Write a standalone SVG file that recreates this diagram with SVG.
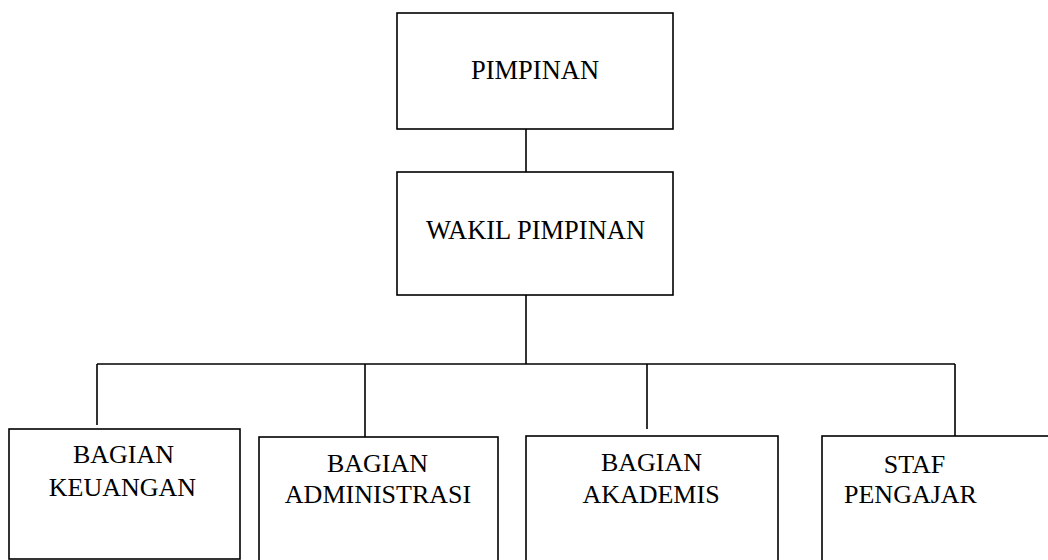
<svg xmlns="http://www.w3.org/2000/svg" width="1048" height="560" viewBox="0 0 1048 560">
<style>
.box{fill:#fff;stroke:#000;stroke-width:1.6}
.ln{fill:none;stroke:#000;stroke-width:1.6}
.t1{font-size:26.5px}
.t2{font-size:26px}
</style>
<rect width="1048" height="560" fill="#fff"/>
<g id="connectors">
<line class="ln" x1="526" y1="129" x2="526" y2="172"/>
<line class="ln" x1="526" y1="295" x2="526" y2="364"/>
<line class="ln" x1="97" y1="364" x2="955" y2="364"/>
<line class="ln" x1="97" y1="364" x2="97" y2="425"/>
<line class="ln" x1="365" y1="364" x2="365" y2="437"/>
<line class="ln" x1="647" y1="364" x2="647" y2="429"/>
<line class="ln" x1="955" y1="364" x2="955" y2="436"/>
</g>
<g font-family="Liberation Serif, Tinos, DejaVu Serif, serif" fill="#000" text-anchor="middle">
<g id="pimpinan">
<rect class="box" x="397" y="13" width="276" height="116"/>
<text class="t1" x="535" y="79">PIMPINAN</text>
</g>
<g id="wakil">
<rect class="box" x="397" y="172" width="276" height="123"/>
<text class="t1" x="535.5" y="239">WAKIL PIMPINAN</text>
</g>
<g id="keuangan">
<rect class="box" x="9" y="429" width="231" height="130"/>
<text class="t2" x="123.5" y="463">BAGIAN</text>
<text class="t2" x="122.5" y="496">KEUANGAN</text>
</g>
<g id="administrasi">
<rect class="box" x="259" y="437" width="239" height="140"/>
<text class="t2" x="377.5" y="472">BAGIAN</text>
<text class="t2" x="378" y="503">ADMINISTRASI</text>
</g>
<g id="akademis">
<rect class="box" x="526" y="436" width="252" height="140"/>
<text class="t2" x="651.5" y="471">BAGIAN</text>
<text class="t2" x="651" y="503">AKADEMIS</text>
</g>
<g id="staf">
<rect class="box" x="822" y="436" width="240" height="140"/>
<text class="t2" x="914.5" y="473">STAF</text>
<text class="t2" x="910.5" y="503">PENGAJAR</text>
</g>
</g>
</svg>
